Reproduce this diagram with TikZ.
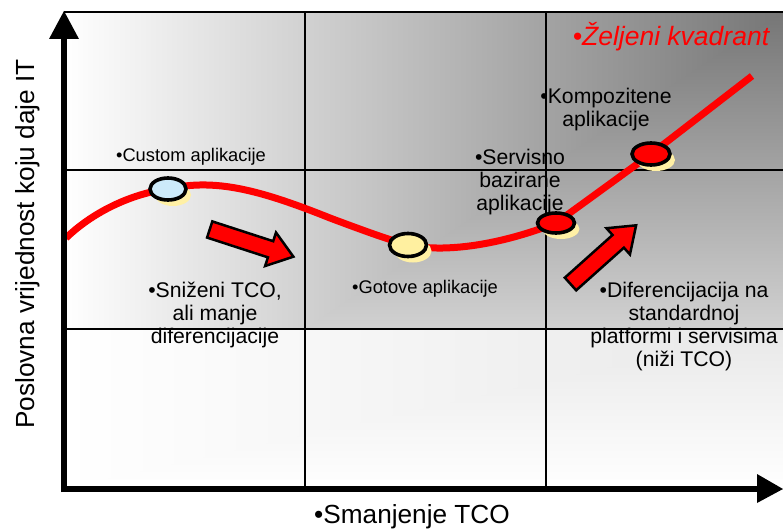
\documentclass[tikz,border=0pt]{standalone}
\usepackage{fontspec}
\setmainfont{Liberation Sans}
\usetikzlibrary{shapes.geometric,shadows}

\definecolor{gdark}{RGB}{118,118,118}
\definecolor{gmid}{RGB}{198,198,198}
\definecolor{glite}{RGB}{232,232,232}
\definecolor{shadowy}{RGB}{255,240,165}
\definecolor{eblue}{RGB}{204,234,250}
\definecolor{eyellow}{RGB}{255,240,160}

\begin{document}
\begin{tikzpicture}[x=1pt,y=-1pt,
  gridline/.style={line width=2.6pt, black},
  axisline/.style={line width=5.5pt, black},
  redcurve/.style={line width=7pt, red},
  dot/.style={ellipse, draw=black, line width=3.6pt, minimum width=36pt, minimum height=22pt, inner sep=0pt,
    drop shadow={shadow xshift=5pt, shadow yshift=-6pt, fill=shadowy, opacity=1}},
  blockarr/.style={fill=red, draw=black, line width=2.5pt, line join=miter},
  lbl/.style={align=center, inner sep=0pt, font=\fontsize{21.2}{23}\selectfont},
  smalllbl/.style={inner sep=0pt, font=\fontsize{18.3}{21}\selectfont},
  biglbl/.style={inner sep=0pt, font=\fontsize{26.2}{30}\selectfont},
]
\useasboundingbox (0,0) rectangle (783,529);

% background shading (gradient from the top right corner)
\shade[left color=white, middle color=gmid, right color=gdark] (64,12) rectangle (783,489);
\shade[top color=gdark, middle color=gmid, bottom color=white] (783,12) -- (783,489) -- (64,489) -- cycle;
% bottom row
\shade[left color=white, right color=glite] (64,329) rectangle (783,489);
\shade[top color=glite, bottom color=white] (783,329) -- (783,489) -- (64,489) -- cycle;

% grid
\draw[gridline] (64,12) -- (783,12);
\draw[gridline] (64,170) -- (783,170);
\draw[gridline] (64,329) -- (783,329);
\draw[gridline] (305,12) -- (305,489);
\draw[gridline] (546,12) -- (546,489);

% curve
\coordinate (c0) at (66,238);
\coordinate (c1) at (168,189);
\coordinate (c2) at (408,245);
\coordinate (c3) at (556,223);
\coordinate (c4) at (651,154);
\coordinate (c5) at (752,76);
\draw[redcurve] (c0) .. controls (95,210) and (135,193) .. (c1)
  .. controls (215,178) and (260,190) .. (330,218)
  .. controls (370,233) and (390,240) .. (c2)
  .. controls (445,253) and (500,245) .. (c3)
  -- (c4) -- (c5);

% points
\node[dot, fill=eblue] (e1) at (c1) {};
\node[dot, fill=eyellow, minimum width=37pt, minimum height=23pt] (e2) at (c2) {};
\node[dot, fill=red, minimum width=37pt, minimum height=20pt] (e3) at (c3) {};
\node[dot, fill=red, minimum width=38pt, minimum height=22pt] (e4) at (c4) {};

% block arrows
\begin{scope}[shift={(209.7,229.5)}, rotate=-18]
  \draw[blockarr] (0,-8.5) -- (64,-8.5) -- (64,-17.6) -- (88,0) -- (64,17.6) -- (64,8.5) -- (0,8.5) -- cycle;
\end{scope}
\begin{scope}[shift={(570.5,284)}, rotate=41.8]
  \draw[blockarr] (0,-8.5) -- (64,-8.5) -- (64,-17.6) -- (88,0) -- (64,17.6) -- (64,8.5) -- (0,8.5) -- cycle;
\end{scope}

% texts
\node[smalllbl] (tcustom) at (191,157) {•Custom aplikacije};
\node[inner sep=0pt, text=red, font=\itshape\fontsize{26.5}{30}\selectfont] (tzel) at (671,37) {•Željeni kvadrant};
\node[lbl] (tkomp) at (606,110) {•Kompozitene\\aplikacije};
\node[lbl] (tserv) at (520,182) {•Servisno\\bazirane\\aplikacije};
\node[lbl] (tsniz) at (215,315) {•Sniženi TCO,\\ali manje\\diferencijacije};
\node[smalllbl] (tgot) at (425,289) {•Gotove aplikacije};
\node[lbl] (tdif) at (684,327) {•Diferencijacija na\\standardnoj\\platformi i servisima\\(niži TCO)};
\node[biglbl] (tx) at (412,517) {•Smanjenje TCO};
\node[biglbl, rotate=90] (ty) at (28,244) {Poslovna vrijednost koju daje IT};

% axes
\coordinate (o) at (64,489);
\coordinate (ytip) at (64,11);
\coordinate (xtip) at (783,489);
\draw[axisline] (64,492) -- (64,36);
\draw[axisline] (61,489) -- (760,489);
\fill[black] (ytip) -- (79,39) -- (49,39) -- cycle;
\fill[black] (xtip) -- (757,503) -- (757,474) -- cycle;
\end{tikzpicture}
\end{document}
